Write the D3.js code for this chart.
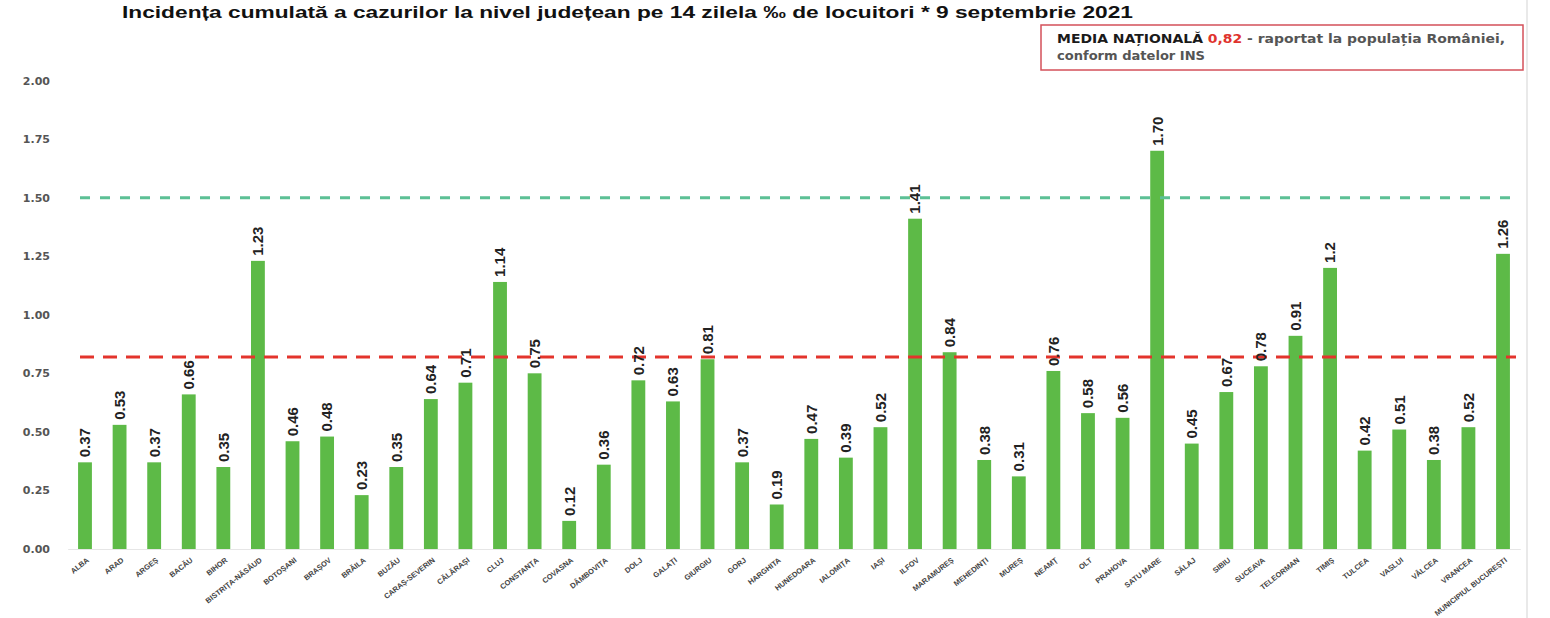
<!DOCTYPE html>
<html>
<head>
<meta charset="utf-8">
<script src="https://cdn.jsdelivr.net/npm/d3@7"></script>
<style>
  body { margin: 0; background: #fff; }
  svg { display: block; }
</style>
</head>
<body>
<svg id="chart"></svg>
<script>
const counties = ["ALBA", "ARAD", "ARGEȘ", "BACĂU", "BIHOR", "BISTRIȚA-NĂSĂUD", "BOTOȘANI", "BRAȘOV",
  "BRĂILA", "BUZĂU", "CARAȘ-SEVERIN", "CĂLĂRAȘI", "CLUJ", "CONSTANȚA", "COVASNA", "DÂMBOVIȚA",
  "DOLJ", "GALAȚI", "GIURGIU", "GORJ", "HARGHITA", "HUNEDOARA", "IALOMIȚA", "IAȘI", "ILFOV",
  "MARAMUREȘ", "MEHEDINȚI", "MUREȘ", "NEAMȚ", "OLT", "PRAHOVA", "SATU MARE", "SĂLAJ", "SIBIU",
  "SUCEAVA", "TELEORMAN", "TIMIȘ", "TULCEA", "VASLUI", "VÂLCEA", "VRANCEA", "MUNICIPIUL BUCUREȘTI"];
const incidence = [0.37, 0.53, 0.37, 0.66, 0.35, 1.23, 0.46, 0.48,
  0.23, 0.35, 0.64, 0.71, 1.14, 0.75, 0.12, 0.36,
  0.72, 0.63, 0.81, 0.37, 0.19, 0.47, 0.39, 0.52, 1.41,
  0.84, 0.38, 0.31, 0.76, 0.58, 0.56, 1.70, 0.45, 0.67,
  0.78, 0.91, 1.2, 0.42, 0.51, 0.38, 0.52, 1.26];
const valueLabels = ["0.37", "0.53", "0.37", "0.66", "0.35", "1.23", "0.46", "0.48",
  "0.23", "0.35", "0.64", "0.71", "1.14", "0.75", "0.12", "0.36",
  "0.72", "0.63", "0.81", "0.37", "0.19", "0.47", "0.39", "0.52", "1.41",
  "0.84", "0.38", "0.31", "0.76", "0.58", "0.56", "1.70", "0.45", "0.67",
  "0.78", "0.91", "1.2", "0.42", "0.51", "0.38", "0.52", "1.26"];
const yTicks = [0, 0.25, 0.5, 0.75, 1.0, 1.25, 1.5, 1.75, 2.0];
const nationalAvg = 0.82;
const threshold = 1.5;

const width = 1550, height = 618;
const svg = d3.select("#chart").attr("width", width).attr("height", height);

const x = d3.scaleBand()
  .domain(counties)
  .range([67.7, 1520.3])
  .paddingInner(0.6)
  .paddingOuter(0.3);

const y = d3.scaleLinear().domain([0, 2]).range([549, 80.5]);

// frame line on the right
svg.append("line")
  .attr("x1", 1527).attr("x2", 1527).attr("y1", 0).attr("y2", height)
  .attr("stroke", "#e2e2e2").attr("stroke-width", 1.5);

// title
svg.append("text")
  .attr("x", 122).attr("y", 18)
  .attr("textLength", 1011)
  .attr("lengthAdjust", "spacingAndGlyphs")
  .style("font-family", "Liberation Sans, Arial, sans-serif")
  .style("font-weight", "bold")
  .style("font-size", "17px")
  .attr("fill", "#111")
  .text("Incidența cumulată a cazurilor la nivel județean pe 14 zilela ‰ de locuitori * 9 septembrie 2021");

// national average box
svg.append("rect")
  .attr("x", 1041).attr("y", 25).attr("width", 482).attr("height", 45)
  .attr("fill", "#fff").attr("stroke", "#d4505a").attr("stroke-width", 1.5);

const box = svg.append("text")
  .attr("x", 1057).attr("y", 43)
  .attr("textLength", 448)
  .attr("lengthAdjust", "spacingAndGlyphs")
  .style("font-family", "DejaVu Sans, sans-serif")
  .style("font-size", "13px")
  .style("font-weight", "bold");
box.append("tspan").attr("fill", "#1a1a1a").text("MEDIA NAȚIONALĂ ");
box.append("tspan").attr("fill", "#e0332d").text("0,82");
box.append("tspan").attr("fill", "#555").text(" - raportat la populația României,");
svg.append("text")
  .attr("x", 1057).attr("y", 60)
  .attr("textLength", 148)
  .attr("lengthAdjust", "spacingAndGlyphs")
  .style("font-family", "DejaVu Sans, sans-serif")
  .style("font-size", "13px")
  .style("font-weight", "bold")
  .attr("fill", "#555")
  .text("conform datelor INS");

// y axis
const yAxis = svg.append("g")
  .attr("transform", "translate(50,0)")
  .call(d3.axisLeft(y).tickValues(yTicks).tickFormat(d3.format(".2f")).tickSize(0));
yAxis.select(".domain").remove();
yAxis.selectAll("text")
  .attr("x", 0)
  .attr("text-anchor", "end")
  .style("font-family", "DejaVu Sans, sans-serif")
  .style("font-weight", "bold")
  .style("font-size", "11px")
  .attr("fill", "#555");

// x axis
const xAxis = svg.append("g")
  .attr("transform", "translate(0,549)")
  .call(d3.axisBottom(x).tickSize(0));
xAxis.select(".domain").attr("stroke", "#e6e6e6").attr("stroke-width", 1);
xAxis.selectAll("text")
  .attr("y", 0)
  .attr("dy", "0.35em")
  .attr("text-anchor", "end")
  .style("transform", "translate(3px, 10px) rotate(-38deg)")
  .style("font-family", "Liberation Sans, Arial, sans-serif")
  .style("font-weight", "bold")
  .style("font-size", "7.5px")
  .attr("fill", "#444");

// bars
svg.selectAll("rect.bar")
  .data(counties)
  .enter()
  .append("rect")
  .attr("class", "bar")
  .attr("x", d => x(d))
  .attr("width", x.bandwidth())
  .attr("y", (d, i) => y(incidence[i]))
  .attr("height", (d, i) => y(0) - y(incidence[i]))
  .attr("fill", "#5dba47");

// reference lines
svg.append("line")
  .attr("x1", 80).attr("x2", 1516)
  .attr("y1", y(threshold)).attr("y2", y(threshold))
  .attr("stroke", "#5cc095").attr("stroke-width", 3)
  .attr("stroke-dasharray", "10,10");

svg.append("line")
  .attr("x1", 80).attr("x2", 1516)
  .attr("y1", y(nationalAvg)).attr("y2", y(nationalAvg))
  .attr("stroke", "#e3342c").attr("stroke-width", 3)
  .attr("stroke-dasharray", "14,9");

// value labels
svg.append("g")
  .selectAll("text")
  .data(counties)
  .enter()
  .append("text")
  .attr("dy", "0.36em")
  .style("transform", (d, i) => `translate(${x(d) + x.bandwidth() / 2}px, ${y(incidence[i]) - 5}px) rotate(-90deg)`)
  .style("font-family", "Liberation Sans Narrow, Arial Narrow, Liberation Sans, sans-serif")
  .style("font-weight", "bold")
  .style("font-size", "15px")
  .attr("fill", "#222")
  .text((d, i) => valueLabels[i]);
</script>
</body>
</html>
